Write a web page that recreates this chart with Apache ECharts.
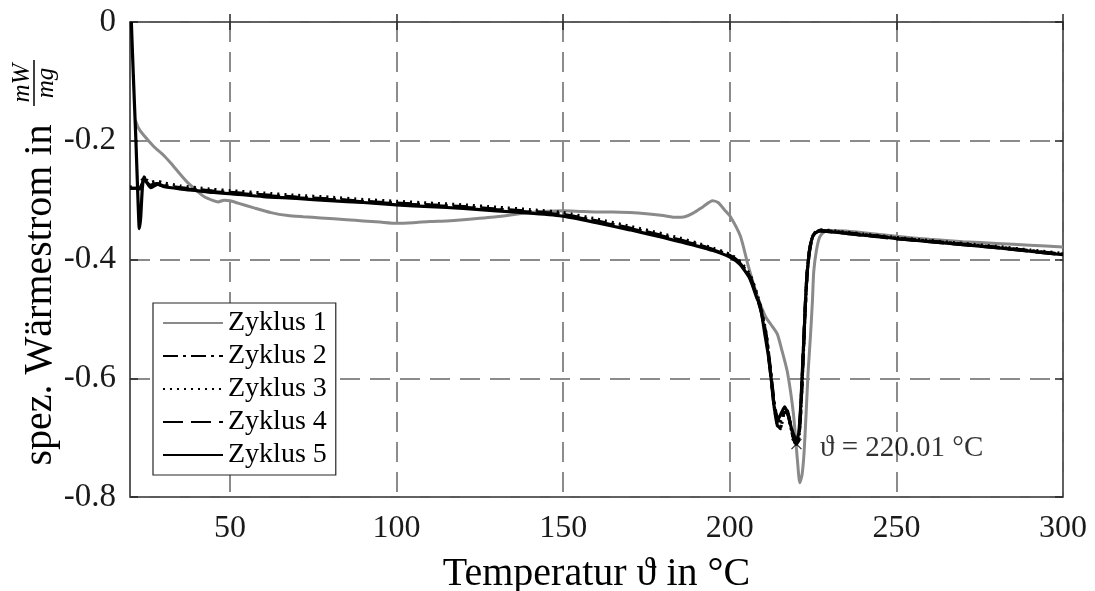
<!DOCTYPE html>
<html>
<head>
<meta charset="utf-8">
<script src="https://cdn.jsdelivr.net/npm/echarts@6/dist/echarts.min.js"></script>
<style>
  html, body { margin: 0; padding: 0; background: #fff; }
  #chart { width: 1095px; height: 591px; }
</style>
</head>
<body>
<div id="chart"></div>
<script>
const SERIF = '"Liberation Serif", "DejaVu Serif", serif';

// tick positions
const xTicks = [50, 100, 150, 200, 250, 300];
const seriesNames = ['Zyklus 1', 'Zyklus 2', 'Zyklus 3', 'Zyklus 4', 'Zyklus 5'];

// Zyklus 1 (grau)
const tempZ1 = [21.6, 22.5, 24, 27.2, 30, 32.3, 35, 37.4, 40, 42.2, 45, 46.5, 48.2, 50, 52.4, 57.2, 62.3, 67.4, 72, 77.3,
  85, 90, 95, 100, 105, 110, 115, 120, 130, 140, 150, 155, 160, 165, 170, 175, 180, 184, 186.5, 189,
  192, 194.8, 196.5, 198.5, 200.2, 203.2, 205.6, 208.3, 210.7, 212.8, 214.3, 215.5, 217.3, 219.1, 220.3, 221, 221.7, 222.3, 222.9, 223.5,
  224.2, 224.8, 225.2, 226, 227, 228.5, 230, 235, 240, 250, 260, 270, 280, 290, 300];
const heatZ1 = [-0.165, -0.178, -0.19, -0.21, -0.224, -0.238, -0.256, -0.271, -0.284, -0.294, -0.301, -0.303, -0.300, -0.301, -0.305, -0.313, -0.321, -0.326, -0.328, -0.330,
  -0.333, -0.335, -0.337, -0.339, -0.338, -0.336, -0.335, -0.333, -0.328, -0.321, -0.318, -0.319, -0.320, -0.320, -0.321, -0.323, -0.326, -0.329, -0.328, -0.322,
  -0.311, -0.301, -0.304, -0.317, -0.328, -0.361, -0.412, -0.462, -0.496, -0.513, -0.526, -0.55, -0.590, -0.660, -0.738, -0.776, -0.762, -0.725, -0.66, -0.59,
  -0.53, -0.47, -0.42, -0.385, -0.362, -0.353, -0.351, -0.352, -0.355, -0.361, -0.366, -0.370, -0.373, -0.376, -0.379];

// Zyklus 2-4 (gemeinsame Temperaturstuetzstellen)
const tempZ234 = [20, 22, 23, 23.8, 24.3, 25, 26, 28, 30, 35, 40, 45, 50, 60, 70, 80, 90, 100, 110, 120,
  130, 140, 150, 160, 170, 180, 185, 190, 195, 200, 203, 206, 208, 209.5, 211, 212.3, 213.3, 214.3, 215.2, 216.3,
  217.3, 218.3, 219.2, 220, 220.7, 221.3, 221.8, 222.3, 222.8, 223.3, 223.9, 224.6, 225.5, 227, 230, 235, 240, 245, 250, 260,
  270, 280, 290, 300];
const heatZ2 = [-0.280, -0.280, -0.281, -0.268, -0.262, -0.269, -0.275, -0.272, -0.275, -0.279, -0.282, -0.285, -0.287, -0.291, -0.295, -0.298, -0.302, -0.305, -0.308, -0.311,
  -0.315, -0.319, -0.324, -0.335, -0.347, -0.360, -0.367, -0.374, -0.383, -0.393, -0.405, -0.428, -0.458, -0.488, -0.530, -0.590, -0.640, -0.670, -0.672, -0.652,
  -0.655, -0.680, -0.700, -0.710, -0.700, -0.650, -0.590, -0.525, -0.460, -0.415, -0.385, -0.365, -0.355, -0.351, -0.352, -0.355, -0.358, -0.361, -0.364, -0.369,
  -0.374, -0.379, -0.385, -0.391];
const heatZ3 = [-0.278, -0.276, -0.272, -0.265, -0.262, -0.266, -0.270, -0.268, -0.271, -0.276, -0.279, -0.282, -0.284, -0.288, -0.292, -0.295, -0.299, -0.302, -0.305, -0.308,
  -0.312, -0.316, -0.321, -0.332, -0.344, -0.357, -0.364, -0.372, -0.381, -0.391, -0.403, -0.425, -0.455, -0.485, -0.528, -0.592, -0.645, -0.678, -0.685, -0.660,
  -0.660, -0.682, -0.703, -0.712, -0.702, -0.655, -0.595, -0.530, -0.465, -0.418, -0.387, -0.366, -0.355, -0.350, -0.351, -0.354, -0.357, -0.360, -0.363, -0.368,
  -0.373, -0.378, -0.384, -0.390];
const heatZ4 = [-0.280, -0.280, -0.280, -0.270, -0.264, -0.270, -0.276, -0.273, -0.276, -0.280, -0.283, -0.286, -0.288, -0.292, -0.296, -0.299, -0.303, -0.306, -0.309, -0.312,
  -0.316, -0.320, -0.325, -0.336, -0.348, -0.361, -0.368, -0.375, -0.384, -0.394, -0.406, -0.430, -0.460, -0.490, -0.533, -0.595, -0.648, -0.680, -0.683, -0.658,
  -0.658, -0.683, -0.703, -0.711, -0.703, -0.655, -0.593, -0.528, -0.462, -0.417, -0.386, -0.366, -0.356, -0.352, -0.353, -0.356, -0.359, -0.362, -0.365, -0.370,
  -0.375, -0.380, -0.386, -0.392];

// Zyklus 5 (schwarz, mit Einschwingen am Anfang)
const tempZ5 = [20.4, 21, 21.8, 22.4, 22.8, 23.2, 23.7, 24.2, 25, 26.3, 28.4, 30, 35, 40, 45, 50, 60, 70, 80, 90,
  100, 110, 120, 130, 140, 150, 160, 170, 180, 185, 190, 195, 200, 203, 206, 208, 209.2, 210.5, 211.6, 212.8,
  213.5, 214.6, 215.5, 216.5, 217.5, 218.5, 219.5, 220, 220.7, 221.3, 221.8, 222.3, 222.8, 223.3, 223.9, 224.6, 225.5, 227, 230, 235,
  240, 245, 250, 260, 270, 280, 290, 300];
const heatZ5 = [0.0, -0.09, -0.204, -0.30, -0.348, -0.33, -0.28, -0.261, -0.270, -0.279, -0.273, -0.277, -0.281, -0.284, -0.287, -0.289, -0.294, -0.297, -0.301, -0.304,
  -0.308, -0.311, -0.314, -0.318, -0.322, -0.327, -0.338, -0.350, -0.363, -0.370, -0.377, -0.385, -0.396, -0.408, -0.432, -0.463, -0.480, -0.525, -0.563, -0.619,
  -0.655, -0.668, -0.658, -0.648, -0.662, -0.684, -0.700, -0.705, -0.692, -0.645, -0.585, -0.525, -0.462, -0.418, -0.388, -0.366, -0.356, -0.352, -0.353, -0.356,
  -0.359, -0.361, -0.365, -0.370, -0.375, -0.380, -0.386, -0.392];

// markierter Peak
const markTemp = 220.01;
const markHeat = -0.711;
const markLabel = 'ϑ = 220.01 °C';

function pairs(xs, ys) {
  return xs.map((x, i) => [x, ys[i]]);
}

const chart = echarts.init(document.getElementById('chart'));

const gridLine = { color: '#666', width: 1.5, type: [20, 10] };
const tickStyle = { color: '#262626', width: 1.5 };

function lineSeries(name, data, color, type, width) {
  return {
    name: name,
    type: 'line',
    data: data,
    showSymbol: false,
    symbol: 'none',
    symbolSize: 0,
    smooth: 0.2,
    lineStyle: { color: color, width: width, type: type, cap: 'butt' },
    itemStyle: { color: color },
  };
}

const option = {
  animation: false,
  backgroundColor: '#fff',
  grid: {
    left: 130, right: 32, top: 22, bottom: 94,
    containLabel: false,
    outerBoundsMode: 'none',
    show: true, borderColor: '#262626', borderWidth: 1.5, backgroundColor: '#fff',
  },
  legend: {
    data: seriesNames,
    orient: 'vertical',
    left: 153,
    top: 303,
    padding: [6, 9, 6, 9],
    itemGap: 5,
    itemWidth: 60,
    itemHeight: 28,
    selectedMode: false,
    backgroundColor: '#fff',
    borderColor: '#262626',
    borderWidth: 1.2,
    itemStyle: { color: 'rgba(0,0,0,0)', borderColor: 'rgba(0,0,0,0)', borderWidth: 0, opacity: 0 },
    textStyle: { fontFamily: SERIF, fontSize: 28, color: '#000', lineHeight: 28 },
  },
  xAxis: [
    {
      type: 'value', min: 20, max: 300, position: 'bottom',
      axisLine: { show: false },
      axisTick: { show: true, inside: true, length: 8, customValues: xTicks, lineStyle: tickStyle },
      axisLabel: { customValues: xTicks, fontFamily: SERIF, fontSize: 32, color: '#1a1a1a', margin: 16 },
      splitLine: { show: true, lineStyle: gridLine },
      name: 'Temperatur ϑ in °C',
      nameLocation: 'middle',
      nameGap: 57,
      nameTextStyle: { fontFamily: SERIF, fontSize: 40, color: '#000' },
    },
    {
      type: 'value', min: 20, max: 300, position: 'top',
      axisLine: { show: false },
      axisTick: { show: true, inside: true, length: 8, customValues: xTicks, lineStyle: tickStyle },
      axisLabel: { show: false },
      splitLine: { show: false },
    },
  ],
  yAxis: [
    {
      type: 'value', min: -0.8, max: 0, interval: 0.2,
      axisLine: { show: false },
      axisTick: { show: true, inside: true, length: 8, lineStyle: tickStyle },
      axisLabel: {
        fontFamily: SERIF, fontSize: 33, color: '#1a1a1a', margin: 14,
        formatter: (v) => (Math.abs(v) < 1e-9 ? '0' : v.toFixed(1)),
      },
      splitLine: { show: true, lineStyle: gridLine },
    },
    {
      type: 'value', min: -0.8, max: 0, interval: 0.2, position: 'right',
      axisLine: { show: false },
      axisTick: { show: true, inside: true, length: 8, lineStyle: tickStyle },
      axisLabel: { show: false },
      splitLine: { show: false },
    },
  ],
  graphic: [
    {
      type: 'text', x: 40, y: 295, rotation: Math.PI / 2,
      style: { text: 'spez. Wärmestrom in', fontFamily: SERIF, fontSize: 40, fill: '#000',
        textAlign: 'center', textVerticalAlign: 'middle', align: 'center', verticalAlign: 'middle' },
    },
    {
      type: 'text', x: 22, y: 83, rotation: Math.PI / 2,
      style: { text: 'mW', fontFamily: SERIF, fontStyle: 'italic', fontSize: 25, fill: '#000',
        textAlign: 'center', textVerticalAlign: 'middle', align: 'center', verticalAlign: 'middle' },
    },
    {
      type: 'line', shape: { x1: 34, y1: 60, x2: 34, y2: 106 },
      style: { stroke: '#000', lineWidth: 1.5 },
    },
    {
      type: 'text', x: 46, y: 83, rotation: Math.PI / 2,
      style: { text: 'mg', fontFamily: SERIF, fontStyle: 'italic', fontSize: 25, fill: '#000',
        textAlign: 'center', textVerticalAlign: 'middle', align: 'center', verticalAlign: 'middle' },
    },
  ],
  series: [
    lineSeries('Zyklus 1', pairs(tempZ1, heatZ1), '#8a8a8a', 'solid', 3),
    lineSeries('Zyklus 2', pairs(tempZ234, heatZ2), '#000', [15, 5, 3, 5], 3.2),
    lineSeries('Zyklus 3', pairs(tempZ234, heatZ3), '#000', [2, 5], 3.2),
    lineSeries('Zyklus 4', pairs(tempZ234, heatZ4), '#000', [20, 8], 3.2),
    lineSeries('Zyklus 5', pairs(tempZ5, heatZ5), '#000', 'solid', 3.2),
    {
      name: 'Markierung',
      type: 'scatter',
      data: [[markTemp, markHeat]],
      symbol: 'path://M0,0L10,10M10,0L0,10',
      symbolSize: 10,
      itemStyle: { color: 'rgba(0,0,0,0)', borderColor: '#000', borderWidth: 1.3 },
      label: {
        show: true, position: 'right', distance: 18, offset: [0, 4], formatter: markLabel,
        fontFamily: SERIF, fontSize: 29, color: '#000',
      },
      z: 10,
    },
  ],
};

chart.setOption(option);
</script>
</body>
</html>
